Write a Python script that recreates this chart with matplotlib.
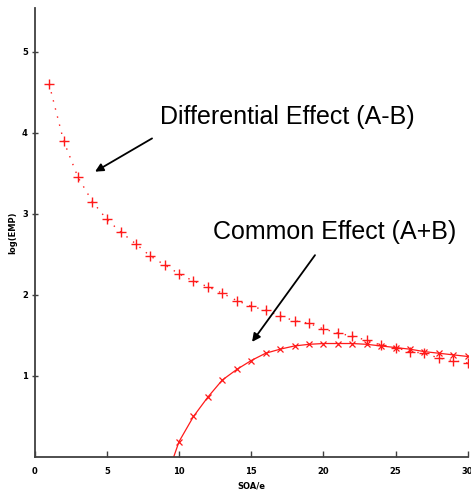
import matplotlib
matplotlib.use("Agg")
import matplotlib.pyplot as plt

# SOA/e values
soa = list(range(1, 31))
# Differential effect (A-B), log(EMP)
diff_vals = [4.60, 3.90, 3.45, 3.15, 2.93, 2.77, 2.63, 2.48, 2.37, 2.26,
             2.17, 2.10, 2.02, 1.93, 1.86, 1.81, 1.74, 1.68, 1.65, 1.58,
             1.53, 1.49, 1.44, 1.38, 1.35, 1.30, 1.28, 1.22, 1.19, 1.16]
# Common effect (A+B), log(EMP)
common_soa = list(range(9, 31))
common_vals = [-0.32, 0.19, 0.50, 0.74, 0.95, 1.08, 1.19, 1.28, 1.33, 1.37,
               1.39, 1.40, 1.40, 1.40, 1.39, 1.37, 1.35, 1.33, 1.30, 1.28,
               1.26, 1.24]

x_ticks = [0, 5, 10, 15, 20, 25, 30]
y_ticks = [1, 2, 3, 4, 5]

fig = plt.figure(figsize=(4.71, 4.93), dpi=100)
ax = fig.add_axes([0.0737, 0.073, 0.9193, 0.911])

red = "#ff1a1a"
ax.plot(soa, diff_vals, color=red, linestyle=(0, (1, 5)), linewidth=1.0,
        marker="+", markersize=6.5, markeredgewidth=1.0)
ax.plot(common_soa, common_vals, color=red, linestyle="-", linewidth=0.9,
        marker="x", markersize=4.5, markeredgewidth=0.9)

ax.set_xlim(0, 30)
ax.set_ylim(0, 5.54)
ax.set_xticks(x_ticks)
ax.set_yticks(y_ticks)
ax.set_xticklabels([str(v) for v in x_ticks], fontsize=6, fontweight="bold")
ax.set_yticklabels([str(v) for v in y_ticks], fontsize=6, fontweight="bold")
ax.tick_params(axis="x", direction="in", length=4, width=1, color="#404040", pad=7)
ax.tick_params(axis="y", direction="inout", length=4, width=1, color="#404040", pad=3)

for s in ["top", "right"]:
    ax.spines[s].set_visible(False)
for s in ["left", "bottom"]:
    ax.spines[s].set_color("#404040")
    ax.spines[s].set_linewidth(1.3)

ax.set_xlabel("SOA/e", fontsize=6, fontweight="bold", labelpad=4)
ax.set_ylabel("log(EMP)", fontsize=6, fontweight="bold", labelpad=3)

font = "Liberation Sans"
ax.text(8.68, 4.19, "Differential Effect (A-B)", fontsize=18, family=font,
        ha="left", va="center")
ax.text(12.36, 2.78, "Common Effect (A+B)", fontsize=18, family=font,
        ha="left", va="center")
ax.annotate("", xy=(4.18, 3.52), xytext=(8.13, 3.93),
            arrowprops=dict(arrowstyle="-|>", color="black", lw=1.3,
                            mutation_scale=12, shrinkA=0, shrinkB=0))
ax.annotate("", xy=(15.06, 1.42), xytext=(19.42, 2.49),
            arrowprops=dict(arrowstyle="-|>", color="black", lw=1.3,
                            mutation_scale=12, shrinkA=0, shrinkB=0))

fig.savefig("out.png", dpi=100)
